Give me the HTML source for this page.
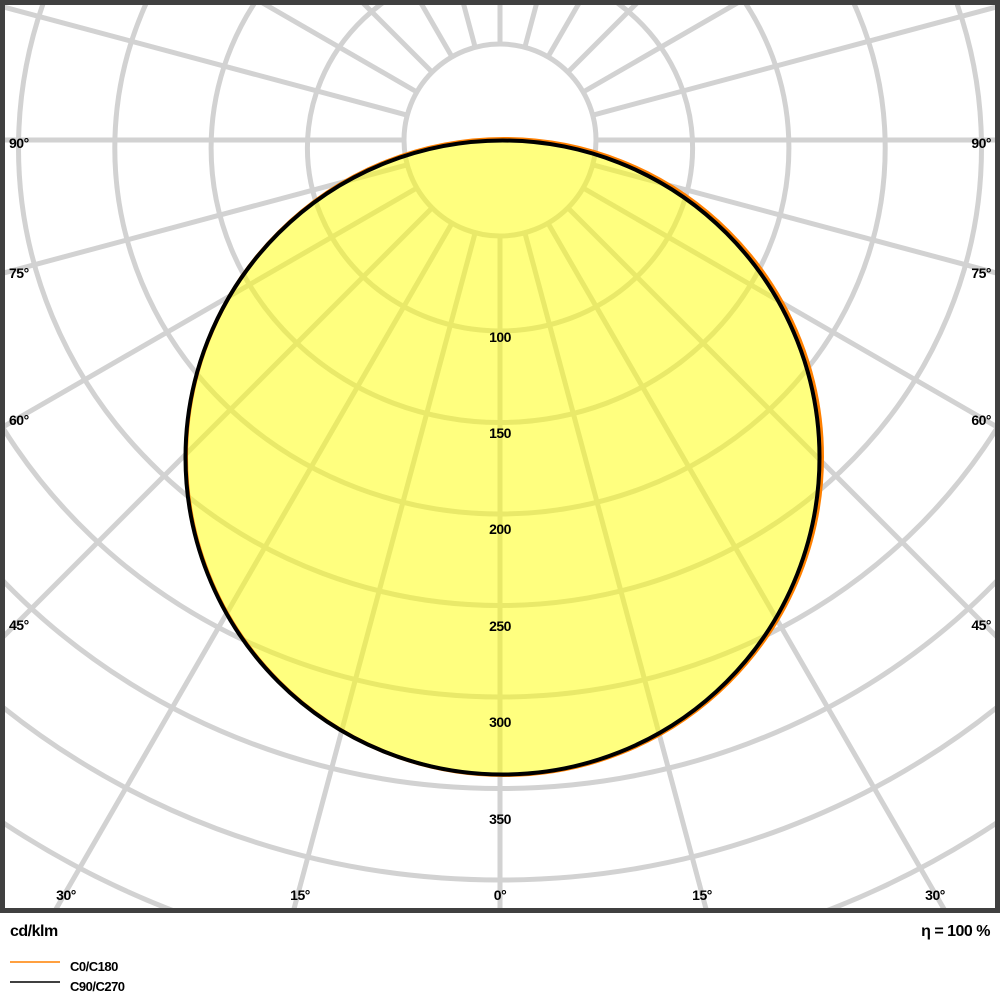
<!DOCTYPE html>
<html><head><style>
html,body{margin:0;background:#fff;overflow:hidden;width:1000px;height:1000px;}
svg{display:block;}
svg text{font-family:"Liberation Sans",Arial,sans-serif;font-size:14px;font-weight:bold;fill:#000;letter-spacing:-0.5px;}
</style></head><body>
<svg width="1000" height="1000" viewBox="0 0 1000 1000" xmlns="http://www.w3.org/2000/svg">
<defs><clipPath id="c"><rect x="5" y="5" width="990" height="905"/></clipPath></defs>
<rect width="1000" height="1000" fill="#fff"/>
<g clip-path="url(#c)" stroke="#d2d2d2" stroke-width="5" fill="none">
<circle cx="500" cy="140" r="96"/>
<ellipse cx="500" cy="148" rx="192.6" ry="183"/>
<ellipse cx="500" cy="148" rx="288.9" ry="274.5"/>
<ellipse cx="500" cy="148" rx="385.2" ry="366"/>
<ellipse cx="500" cy="148" rx="481.5" ry="457.5"/>
<ellipse cx="500" cy="148" rx="577.8" ry="549"/>
<ellipse cx="500" cy="148" rx="674.1" ry="640.5"/>
<ellipse cx="500" cy="148" rx="770.4" ry="732"/>
<ellipse cx="500" cy="148" rx="866.7" ry="823.5"/>
<ellipse cx="500" cy="148" rx="963" ry="915"/>
<ellipse cx="500" cy="148" rx="1059.3" ry="1006.5"/>
<g id="rays">
<line x1="500" y1="236" x2="500" y2="1500"/>
</g>
<use href="#rays" transform="rotate(15 500 140)"/>
<use href="#rays" transform="rotate(30 500 140)"/>
<use href="#rays" transform="rotate(45 500 140)"/>
<use href="#rays" transform="rotate(60 500 140)"/>
<use href="#rays" transform="rotate(75 500 140)"/>
<use href="#rays" transform="rotate(90 500 140)"/>
<use href="#rays" transform="rotate(105 500 140)"/>
<use href="#rays" transform="rotate(120 500 140)"/>
<use href="#rays" transform="rotate(135 500 140)"/>
<use href="#rays" transform="rotate(150 500 140)"/>
<use href="#rays" transform="rotate(165 500 140)"/>
<use href="#rays" transform="rotate(180 500 140)"/>
<use href="#rays" transform="rotate(195 500 140)"/>
<use href="#rays" transform="rotate(210 500 140)"/>
<use href="#rays" transform="rotate(225 500 140)"/>
<use href="#rays" transform="rotate(240 500 140)"/>
<use href="#rays" transform="rotate(255 500 140)"/>
<use href="#rays" transform="rotate(270 500 140)"/>
<use href="#rays" transform="rotate(285 500 140)"/>
<use href="#rays" transform="rotate(300 500 140)"/>
<use href="#rays" transform="rotate(315 500 140)"/>
<use href="#rays" transform="rotate(330 500 140)"/>
<use href="#rays" transform="rotate(345 500 140)"/>
</g>
<circle cx="504" cy="457" r="318" fill="#ffff00" fill-opacity="0.5" stroke="#ff8000" stroke-width="4"/>
<circle cx="502.5" cy="457.5" r="317" fill="none" stroke="#000" stroke-width="4"/>
<rect x="2.5" y="2.5" width="995" height="908" fill="none" stroke="#404040" stroke-width="5"/>
<g text-anchor="middle">
<text x="500" y="342">100</text>
<text x="500" y="438">150</text>
<text x="500" y="534">200</text>
<text x="500" y="631">250</text>
<text x="500" y="727">300</text>
<text x="500" y="824">350</text>
<text x="66" y="900">30°</text>
<text x="300" y="900">15°</text>
<text x="500" y="900">0°</text>
<text x="702" y="900">15°</text>
<text x="935" y="900">30°</text>
</g>
<text x="9" y="148">90°</text>
<text x="9" y="278">75°</text>
<text x="9" y="425">60°</text>
<text x="9" y="630">45°</text>
<g text-anchor="end">
<text x="991" y="148">90°</text>
<text x="991" y="278">75°</text>
<text x="991" y="425">60°</text>
<text x="991" y="630">45°</text>
</g>
<text x="10" y="936" style="font-size:16px">cd/klm</text>
<text x="990" y="936" text-anchor="end" style="font-size:16px">η = 100 %</text>
<line x1="10" y1="962" x2="60" y2="962" stroke="#ff8000" stroke-width="1.5"/>
<line x1="10" y1="982" x2="60" y2="982" stroke="#000" stroke-width="1.5"/>
<text x="70" y="971" style="font-size:13px">C0/C180</text>
<text x="70" y="991" style="font-size:13px">C90/C270</text>
</svg>
</body></html>
